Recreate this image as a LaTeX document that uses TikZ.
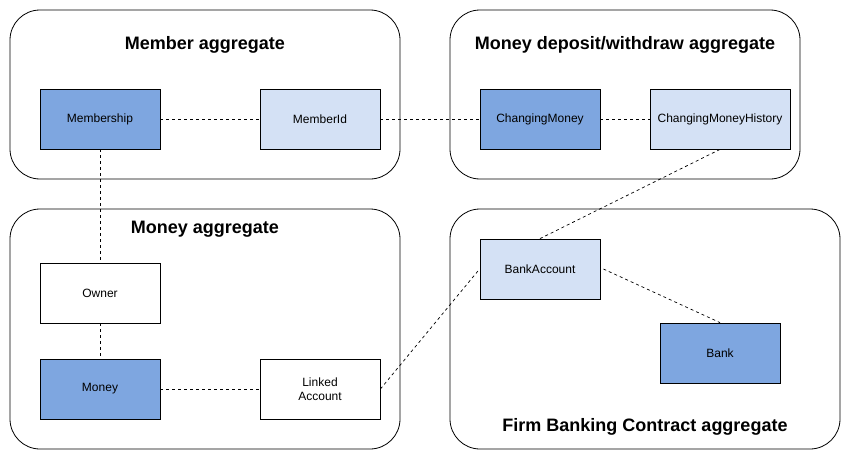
\documentclass[tikz,border=0pt]{standalone}
\usepackage{fontspec}
\setmainfont{Liberation Sans}
\definecolor{darkblue}{HTML}{7EA6E0}
\definecolor{lightblue}{HTML}{D4E1F5}
\begin{document}
\begin{tikzpicture}[x=1pt,y=-1pt,
  agg/.style={draw, line width=0.8pt, rounded corners=30pt},
  ttl/.style={font=\fontsize{18}{21}\selectfont\bfseries, inner sep=0pt},
  ent/.style={draw, line width=0.8pt, minimum width=120pt, minimum height=60pt, inner sep=0pt, font=\fontsize{12}{15}\selectfont, align=center},
  dark/.style={ent, fill=darkblue},
  light/.style={ent, fill=lightblue},
  plain/.style={ent, fill=white},
  link/.style={draw, line width=0.7pt, dash pattern=on 3pt off 3pt}]
\useasboundingbox (0,0) rectangle (851,460);
% aggregates
\draw[agg] (10,10) rectangle (400,179);
\draw[agg] (450,10) rectangle (800,179);
\draw[agg] (10,209) rectangle (400,449);
\draw[agg] (450,209) rectangle (840,449);
\node[ttl] (t1) at (205,45) {Member aggregate};
\node[ttl] (t2) at (625,45) {Money deposit/withdraw aggregate};
\node[ttl] (t3) at (205,229) {Money aggregate};
\node[ttl] (t4) at (645,427) {Firm Banking Contract aggregate};
% entities
\node[dark] (membership) at (100,119) {Membership};
\node[light] (memberid) at (320,119) {MemberId};
\node[dark] (chmoney) at (540,119) {ChangingMoney};
\node[light, minimum width=140pt] (chhist) at (720,119) {ChangingMoneyHistory};
\node[plain] (owner) at (100,293) {Owner};
\node[dark] (money) at (100,389) {Money};
\node[plain] (linked) at (320,389) {Linked\\[-0.5pt]Account};
\node[light] (bankacc) at (540,269) {BankAccount};
\node[dark] (bank) at (720,353) {Bank};
% links
\draw[link] (membership) -- (memberid);
\draw[link] (memberid) -- (chmoney);
\draw[link] (chmoney) -- (chhist);
\draw[link] (membership) -- (owner);
\draw[link] (owner) -- (money);
\draw[link] (money) -- (linked);
\draw[link] (linked.east) -- (bankacc.west);
\draw[link] (chhist.south) -- (bankacc.north);
\draw[link] ([xshift=3pt]bankacc.east) -- (bank.north);
\end{tikzpicture}
\end{document}
